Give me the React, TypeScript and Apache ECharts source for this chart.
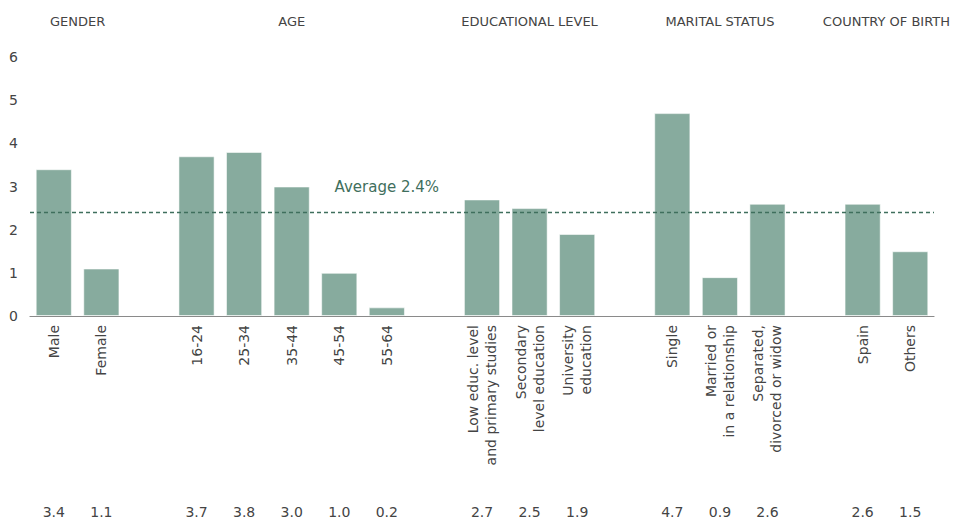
import React, { useEffect, useRef } from "react";
import * as echarts from "echarts";

// Unemployment-style rate by profile group (%)
const GROUP_NAMES = ["GENDER", "AGE", "EDUCATIONAL LEVEL", "MARITAL STATUS", "COUNTRY OF BIRTH"];
const GENDER_CATS = ["Male", "Female"];
const GENDER_VALUES = [3.4, 1.1];
const AGE_CATS = ["16-24", "25-34", "35-44", "45-54", "55-64"];
const AGE_VALUES = [3.7, 3.8, 3.0, 1.0, 0.2];
const EDU_CATS = ["Low educ. level\nand primary studies", "Secondary\nlevel education", "University\neducation"];
const EDU_VALUES = [2.7, 2.5, 1.9];
const MARITAL_CATS = ["Single", "Married or\nin a relationship", "Separated,\ndivorced or widow"];
const MARITAL_VALUES = [4.7, 0.9, 2.6];
const BIRTH_CATS = ["Spain", "Others"];
const BIRTH_VALUES = [2.6, 1.5];
const AVERAGE = 2.4;
const Y_TICKS = [0, 1, 2, 3, 4, 5, 6];

const FONT = "'Century Gothic', 'DejaVu Sans', sans-serif";
const BAR_COLOR = "#87ab9e";
const AVG_COLOR = "#3f6f5d";
const TEXT_COLOR = "#444444";

export default function App() {
  const ref = useRef<HTMLDivElement>(null);

  useEffect(() => {
    document.body.style.margin = "0";
    if (!ref.current) return;
    const chart = echarts.init(ref.current, null, { renderer: "svg" });

    const groupCats = [GENDER_CATS, AGE_CATS, EDU_CATS, MARITAL_CATS, BIRTH_CATS];
    const groupVals = [GENDER_VALUES, AGE_VALUES, EDU_VALUES, MARITAL_VALUES, BIRTH_VALUES];

    // flatten groups, leaving one empty slot between consecutive groups
    const categories: string[] = [];
    const values: (number | string)[] = [];
    const headerPos: number[] = [];
    groupCats.forEach((cats, g) => {
      if (g > 0) {
        categories.push("");
        values.push("-");
      }
      const start = categories.length;
      cats.forEach((c, i) => {
        categories.push(c);
        values.push(groupVals[g][i]);
      });
      headerPos.push((start + categories.length - 1) / 2);
    });
    const valueLabels = values.map((v) => (typeof v === "number" ? v.toFixed(1) : ""));
    const last = categories.length - 1;

    chart.setOption({
      animation: false,
      grid: { left: 30, right: 21, top: 57, bottom: 201, containLabel: false },
      xAxis: [
        {
          type: "category",
          data: categories,
          axisLine: { lineStyle: { color: "#8a8a8a", width: 1.2 } },
          axisTick: { show: false },
          axisLabel: {
            interval: 0,
            rotate: 90,
            margin: 9,
            fontFamily: FONT,
            fontSize: 14,
            lineHeight: 18,
            color: TEXT_COLOR,
          },
        },
        {
          type: "category",
          data: valueLabels,
          position: "bottom",
          offset: 181,
          axisLine: { show: false },
          axisTick: { show: false },
          axisLabel: { interval: 0, margin: 8, fontFamily: FONT, fontSize: 14, color: TEXT_COLOR },
        },
        {
          type: "value",
          position: "top",
          min: -0.5,
          max: last + 0.5,
          offset: 21,
          axisLine: { show: false },
          axisTick: { show: false },
          splitLine: { show: false },
          axisLabel: {
            customValues: headerPos,
            margin: 8,
            fontFamily: FONT,
            fontSize: 13,
            color: TEXT_COLOR,
            formatter: (v: number) => {
              const i = headerPos.findIndex((p) => Math.abs(p - v) < 1e-6);
              return i >= 0 ? GROUP_NAMES[i] : "";
            },
          },
        },
      ],
      yAxis: {
        type: "value",
        min: Y_TICKS[0],
        max: Y_TICKS[Y_TICKS.length - 1],
        interval: 1,
        axisLine: { show: false },
        axisTick: { show: false },
        splitLine: { show: false },
        axisLabel: { margin: 12, fontFamily: FONT, fontSize: 14, color: TEXT_COLOR },
      },
      series: [
        {
          type: "bar",
          xAxisIndex: 0,
          data: values,
          barWidth: "76%",
          itemStyle: { color: BAR_COLOR, borderColor: "rgba(255,255,255,0.55)", borderWidth: 1 },
          markLine: {
            silent: true,
            symbol: "none",
            label: { show: false },
            lineStyle: { color: AVG_COLOR, type: [4, 3], width: 1.3 },
            data: [{ yAxis: AVERAGE }],
          },
          markPoint: {
            silent: true,
            symbol: "circle",
            symbolSize: 0,
            label: {
              show: true,
              position: "top",
              distance: 18,
              fontFamily: FONT,
              fontSize: 15,
              color: AVG_COLOR,
              formatter: `Average ${AVERAGE}%`,
            },
            data: [{ coord: [7, AVERAGE] }],
          },
        },
      ],
    });

    return () => chart.dispose();
  }, []);

  return <div ref={ref} style={{ width: 955, height: 519 }} />;
}
